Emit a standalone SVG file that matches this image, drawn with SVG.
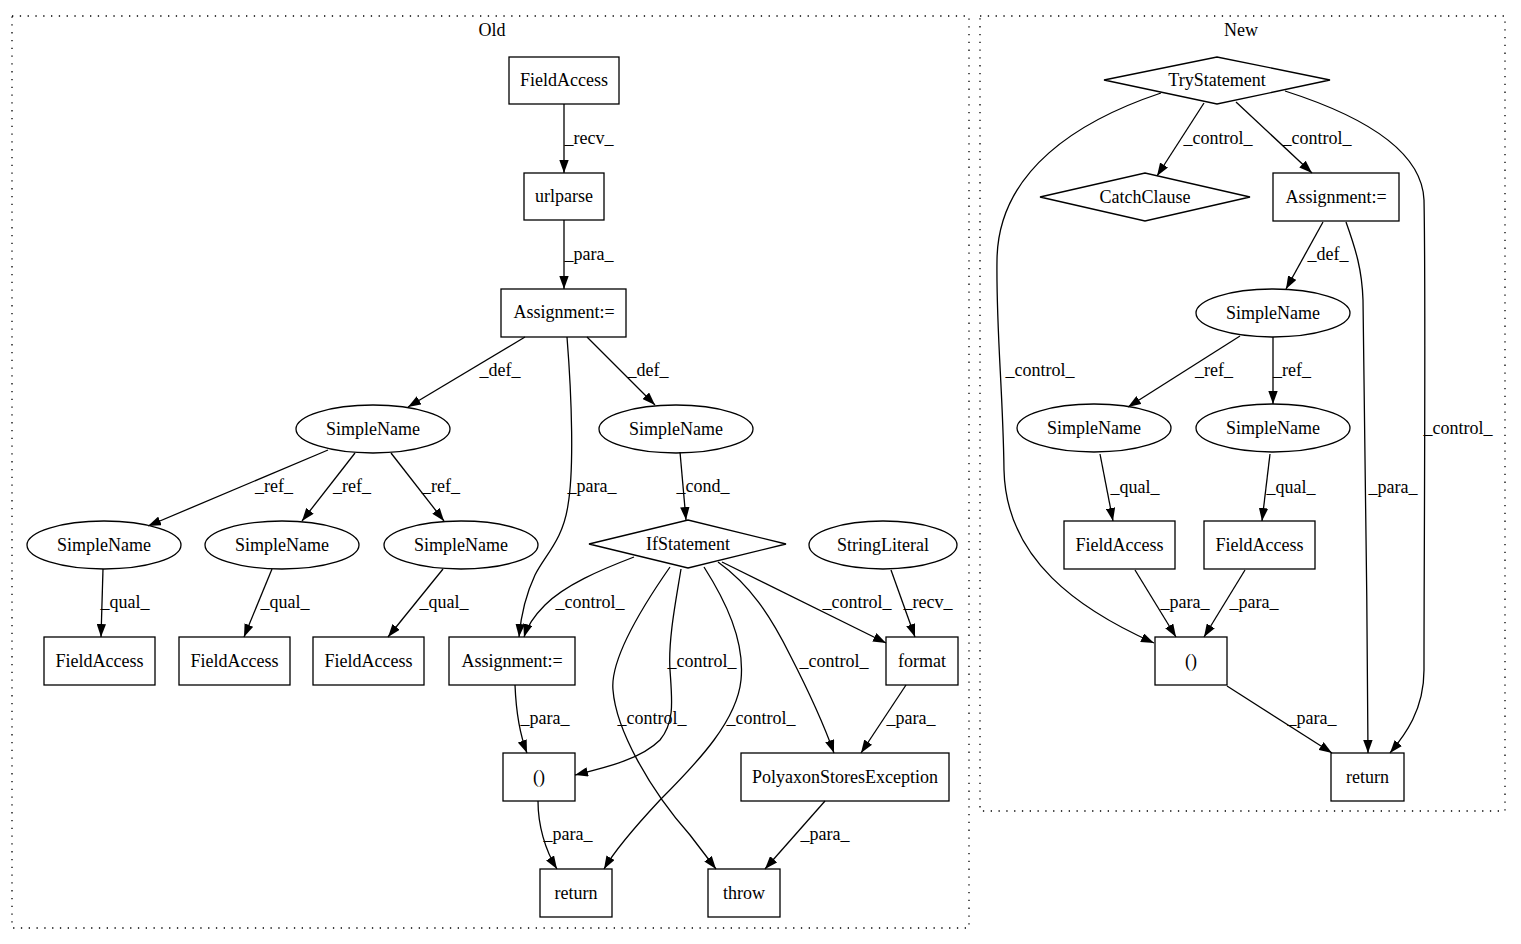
<svg xmlns="http://www.w3.org/2000/svg" width="1521" height="944" viewBox="0 0 1521 944">
<style>
text{font-family:"Liberation Serif","Times New Roman",serif;font-size:18px;fill:#000;text-anchor:middle}
.n rect,.n ellipse,.n polygon{fill:none;stroke:#000;stroke-width:1.3}
.cl{fill:none;stroke:#000;stroke-width:1.3;stroke-dasharray:1.3,6.5}
.e path{fill:none;stroke:#000;stroke-width:1.3;marker-end:url(#ah)}
</style>
<defs>
<marker id="ah" markerUnits="userSpaceOnUse" markerWidth="13" markerHeight="9.4" refX="13" refY="4.7" orient="auto" viewBox="0 0 13 9.4">
<path d="M0,0 L13,4.7 L0,9.4 z" fill="#000"/>
</marker>
</defs>
<rect width="1521" height="944" fill="#fff"/>
<g id="cluster_old"><rect class="cl" x="12" y="16" width="957" height="912"/><text x="492" y="36">Old</text></g>
<g id="cluster_new"><rect class="cl" x="980" y="16" width="525" height="795"/><text x="1241" y="36">New</text></g>

<g id="edges" class="e">
<path d="M564,104 L564,173"/>
<path d="M564,220 L564,289"/>
<path d="M525,337 L408,407"/>
<path d="M587,337 L655,405"/>
<path d="M567,337 C572,400 574,470 568,505 C563,540 545,555 535,575 C527,592 521,615 519,637"/>
<path d="M328,450 L148,526"/>
<path d="M355,453 L302,521"/>
<path d="M391,453 L444,521"/>
<path d="M103,569 L101,637"/>
<path d="M272,569 L244,637"/>
<path d="M443,569 L388,637"/>
<path d="M680,452 L686,520"/>
<path d="M634,557 C600,570 565,585 545,605 C535,615 527,627 524,637"/>
<path d="M681,569 C676,600 668,640 670,670 C672,700 675,722 660,740 C640,760 603,768 575,775"/>
<path d="M670,567 C640,610 610,660 613,690 C616,730 650,790 690,835 C700,848 709,860 716,869"/>
<path d="M704,567 C725,600 745,640 741,680 C737,720 700,760 660,800 C632,830 615,850 604,869"/>
<path d="M718,562 C750,585 770,615 790,655 C808,690 824,725 834,753"/>
<path d="M722,562 L886,643"/>
<path d="M891,570 L915,637"/>
<path d="M515,685 C516,710 520,735 527,753"/>
<path d="M906,685 L861,753"/>
<path d="M538,801 C538,825 545,850 557,869"/>
<path d="M825,801 L765,869"/>

<path d="M1204,103 L1157,176"/>
<path d="M1236,102 L1312,173"/>
<path d="M1323,222 L1286,289"/>
<path d="M1346,222 C1356,250 1362,270 1363,300 C1365,400 1367,600 1368,753"/>
<path d="M1161,93 C1080,120 998,170 997,260 C996,330 1003,390 1004,470 C1006,560 1080,610 1154,643"/>
<path d="M1285,91 C1360,115 1422,150 1424,200 C1426,300 1424,550 1424,670 C1424,710 1405,735 1390,753"/>
<path d="M1240,336 L1128,407"/>
<path d="M1273,337 L1273,404"/>
<path d="M1100,454 L1113,521"/>
<path d="M1270,454 L1262,521"/>
<path d="M1135,570 L1176,637"/>
<path d="M1245,570 L1204,637"/>
<path d="M1227,686 L1332,753"/>
</g>

<g id="edge_labels">
<text x="589" y="144">_recv_</text>
<text x="589" y="260">_para_</text>
<text x="500" y="376">_def_</text>
<text x="648" y="376">_def_</text>
<text x="592" y="492">_para_</text>
<text x="274" y="492">_ref_</text>
<text x="352" y="492">_ref_</text>
<text x="441" y="492">_ref_</text>
<text x="703" y="492">_cond_</text>
<text x="125" y="608">_qual_</text>
<text x="285" y="608">_qual_</text>
<text x="444" y="608">_qual_</text>
<text x="590" y="608">_control_</text>
<text x="857" y="608">_control_</text>
<text x="928" y="608">_recv_</text>
<text x="702" y="667">_control_</text>
<text x="834" y="667">_control_</text>
<text x="652" y="724">_control_</text>
<text x="761" y="724">_control_</text>
<text x="545" y="724">_para_</text>
<text x="911" y="724">_para_</text>
<text x="568" y="840">_para_</text>
<text x="825" y="840">_para_</text>

<text x="1218" y="144">_control_</text>
<text x="1317" y="144">_control_</text>
<text x="1328" y="260">_def_</text>
<text x="1040" y="376">_control_</text>
<text x="1214" y="376">_ref_</text>
<text x="1292" y="376">_ref_</text>
<text x="1458" y="434">_control_</text>
<text x="1135" y="493">_qual_</text>
<text x="1291" y="493">_qual_</text>
<text x="1393" y="493">_para_</text>
<text x="1185" y="608">_para_</text>
<text x="1254" y="608">_para_</text>
<text x="1312" y="724">_para_</text>
</g>

<g id="old_fieldaccess_top" class="n"><rect x="509" y="57" width="110" height="47"/><text x="564" y="86">FieldAccess</text></g>
<g id="old_urlparse" class="n"><rect x="524" y="173" width="80" height="47"/><text x="564" y="202">urlparse</text></g>
<g id="old_assignment_top" class="n"><rect x="501" y="289" width="125" height="48"/><text x="564" y="318">Assignment:=</text></g>
<g id="old_simplename_a" class="n"><ellipse cx="373" cy="429" rx="77" ry="24"/><text x="373" y="435">SimpleName</text></g>
<g id="old_simplename_b" class="n"><ellipse cx="676" cy="429" rx="77" ry="24"/><text x="676" y="435">SimpleName</text></g>
<g id="old_simplename_1" class="n"><ellipse cx="104" cy="545" rx="77" ry="24"/><text x="104" y="551">SimpleName</text></g>
<g id="old_simplename_2" class="n"><ellipse cx="282" cy="545" rx="77" ry="24"/><text x="282" y="551">SimpleName</text></g>
<g id="old_simplename_3" class="n"><ellipse cx="461" cy="545" rx="77" ry="24"/><text x="461" y="551">SimpleName</text></g>
<g id="old_fieldaccess_1" class="n"><rect x="44" y="637" width="111" height="48"/><text x="99.5" y="667">FieldAccess</text></g>
<g id="old_fieldaccess_2" class="n"><rect x="179" y="637" width="111" height="48"/><text x="234.5" y="667">FieldAccess</text></g>
<g id="old_fieldaccess_3" class="n"><rect x="313" y="637" width="111" height="48"/><text x="368.5" y="667">FieldAccess</text></g>
<g id="old_ifstatement" class="n"><polygon points="589,544 688,520 786,544 688,568"/><text x="688" y="550">IfStatement</text></g>
<g id="old_stringliteral" class="n"><ellipse cx="883" cy="545" rx="74" ry="24"/><text x="883" y="551">StringLiteral</text></g>
<g id="old_assignment_low" class="n"><rect x="449" y="637" width="126" height="48"/><text x="512" y="667">Assignment:=</text></g>
<g id="old_format" class="n"><rect x="886" y="637" width="72" height="48"/><text x="922" y="667">format</text></g>
<g id="old_paren" class="n"><rect x="503" y="753" width="72" height="48"/><text x="539" y="783">()</text></g>
<g id="old_polyaxon" class="n"><rect x="741" y="753" width="208" height="48"/><text x="845" y="783">PolyaxonStoresException</text></g>
<g id="old_return" class="n"><rect x="540" y="869" width="72" height="48"/><text x="576" y="899">return</text></g>
<g id="old_throw" class="n"><rect x="708" y="869" width="72" height="48"/><text x="744" y="899">throw</text></g>

<g id="new_trystatement" class="n"><polygon points="1104,80 1217,57 1330,80 1217,104"/><text x="1217" y="86">TryStatement</text></g>
<g id="new_catchclause" class="n"><polygon points="1040,197 1145,173 1250,197 1145,221"/><text x="1145" y="203">CatchClause</text></g>
<g id="new_assignment" class="n"><rect x="1273" y="173" width="126" height="48"/><text x="1336" y="203">Assignment:=</text></g>
<g id="new_simplename_a" class="n"><ellipse cx="1273" cy="313" rx="77" ry="24"/><text x="1273" y="319">SimpleName</text></g>
<g id="new_simplename_1" class="n"><ellipse cx="1094" cy="428" rx="77" ry="24"/><text x="1094" y="434">SimpleName</text></g>
<g id="new_simplename_2" class="n"><ellipse cx="1273" cy="428" rx="77" ry="24"/><text x="1273" y="434">SimpleName</text></g>
<g id="new_fieldaccess_1" class="n"><rect x="1064" y="521" width="111" height="48"/><text x="1119.5" y="551">FieldAccess</text></g>
<g id="new_fieldaccess_2" class="n"><rect x="1204" y="521" width="111" height="48"/><text x="1259.5" y="551">FieldAccess</text></g>
<g id="new_paren" class="n"><rect x="1155" y="637" width="72" height="48"/><text x="1191" y="667">()</text></g>
<g id="new_return" class="n"><rect x="1331" y="753" width="73" height="48"/><text x="1367.5" y="783">return</text></g>
</svg>
